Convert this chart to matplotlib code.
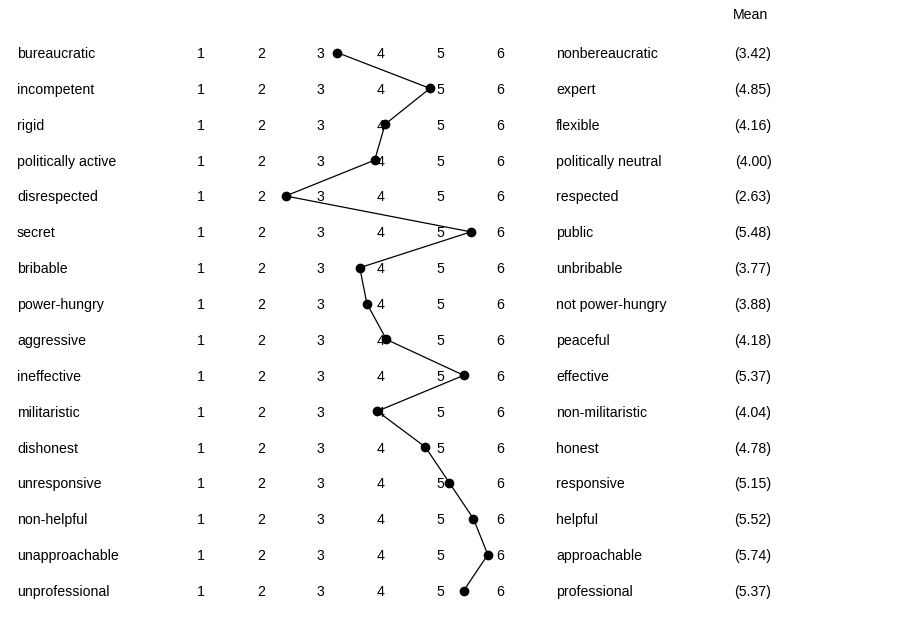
import matplotlib
matplotlib.use("Agg")
import matplotlib.pyplot as plt

# semantic differential profile
left_labels = ["bureaucratic", "incompetent", "rigid", "politically active",
               "disrespected", "secret", "bribable", "power-hungry", "aggressive",
               "ineffective", "militaristic", "dishonest", "unresponsive",
               "non-helpful", "unapproachable", "unprofessional"]
right_labels = ["nonbereaucratic", "expert", "flexible", "politically neutral",
                "respected", "public", "unbribable", "not power-hungry", "peaceful",
                "effective", "non-militaristic", "honest", "responsive",
                "helpful", "approachable", "professional"]
means = [3.42, 4.85, 4.16, 4.00, 2.63, 5.48, 3.77, 3.88, 4.18,
         5.37, 4.04, 4.78, 5.15, 5.52, 5.74, 5.37]
scale_points = [1, 2, 3, 4, 5, 6]

W, H = 911, 638
plt.rcParams["font.family"] = ["Liberation Sans", "DejaVu Sans"]
FS = 10.2

fig = plt.figure(figsize=(W / 100, H / 100), dpi=100)
ax = fig.add_axes([0, 0, 1, 1])
ax.set_xlim(0, W)
ax.set_ylim(H, 0)
ax.axis("off")


def row_y(i):
    return 54 + i * 35.87


def val_x(v):
    # mean value -> horizontal position of the marker
    return 114.7 + 65.0 * v


ax.text(751, 15, "Mean", fontsize=FS, ha="center", va="center")

for i, (lab_l, lab_r, m) in enumerate(zip(left_labels, right_labels, means)):
    y = row_y(i)
    ax.text(17, y, lab_l, fontsize=FS, ha="left", va="center")
    for k in scale_points:
        ax.text(201 + (k - 1) * 59.8, y, str(k), fontsize=FS,
                ha="center", va="center")
    ax.text(556, y, lab_r, fontsize=FS, ha="left", va="center")
    ax.text(753, y, f"({m:.2f})", fontsize=FS, ha="center", va="center")

xs = [val_x(m) for m in means]
ys = [row_y(i) - 1.5 for i in range(len(means))]
ax.plot(xs, ys, "-", color="black", lw=0.9, zorder=3)
ax.plot(xs, ys, "o", color="black", ms=6, zorder=4)

fig.savefig("out.png", dpi=100, facecolor="white")
